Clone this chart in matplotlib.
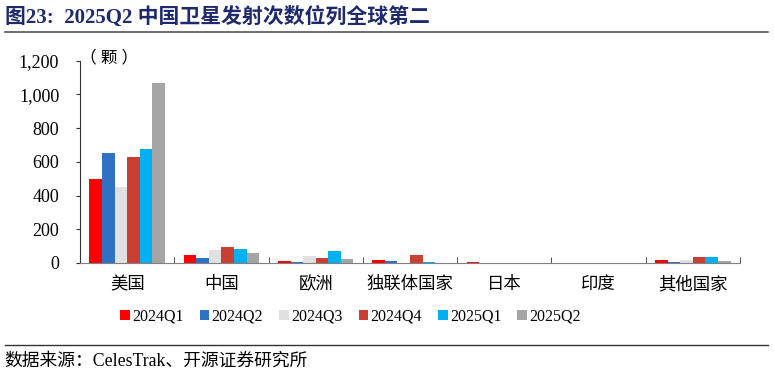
import numpy as np
import matplotlib.pyplot as plt
from matplotlib.lines import Line2D

plt.rcParams['font.family'] = ['Liberation Serif', 'Noto Sans CJK SC']

regions = ["美国", "中国", "欧洲", "独联体国家", "日本", "印度", "其他国家"]
quarters = ["2024Q1", "2024Q2", "2024Q3", "2024Q4", "2025Q1", "2025Q2"]
q2024_1 = [497, 46, 10, 20, 3, 2, 20]
q2024_2 = [653, 32, 5, 10, 1, 1, 3]
q2024_3 = [451, 77, 43, 1, 1, 1, 20]
q2024_4 = [626, 97, 32, 50, 2, 2, 34]
q2025_1 = [674, 83, 71, 5, 2, 2, 36]
q2025_2 = [1069, 61, 26, 2, 2, 1, 14]
series = [q2024_1, q2024_2, q2024_3, q2024_4, q2025_1, q2025_2]
colors = ["#FF0000", "#2F72C4", "#E0E0E0", "#C94032", "#00B0F0", "#A5A5A5"]

fig = plt.figure(figsize=(7.74, 3.75), dpi=100)
ax = fig.add_axes([0.1034, 0.2987, 0.8526, 0.5393])

x = np.arange(len(regions))
w = 0.8 / len(series)
for i, (vals, c, lab) in enumerate(zip(series, colors, quarters)):
    ax.bar(x - 0.4 + w * (i + 0.5), vals, width=w, color=c, label=lab)

ax.set_xlim(-0.5, len(regions) - 0.5)
ax.set_ylim(0, 1200)
ax.set_yticks(range(0, 1201, 200))
ax.set_yticklabels([f"{v:,}" for v in range(0, 1201, 200)], fontsize=13)
ax.set_xticks(x)
ax.set_xticklabels(regions, fontsize=12.5)
ax.set_xticks(np.arange(0.5, len(regions)), minor=True)
ax.tick_params(axis='x', which='major', length=0, pad=10)
ax.tick_params(axis='x', which='minor', length=4, direction='in', color='#333333')
ax.tick_params(axis='y', length=3, direction='out', color='#333333', pad=12)

for s in ["top", "right"]:
    ax.spines[s].set_visible(False)
ax.spines["left"].set_color("#333333")
ax.spines["bottom"].set_color("#808080")

ax.text(0.0, 1.01, "（ 颗 ）", transform=ax.transAxes, fontsize=12, va='center', ha='left')

ax.legend(loc='upper center', bbox_to_anchor=(0.41, -0.155), ncol=6, frameon=False,
          fontsize=11.5, handlelength=0.6, handleheight=0.6, handletextpad=0.15,
          columnspacing=1.0)

fig.text(0.006, 0.955, "图23:  2025Q2 中国卫星发射次数位列全球第二", fontsize=15,
         fontweight='bold', color='#1F2A6E', va='center', ha='left')
fig.add_artist(Line2D([0.006, 0.992], [0.915, 0.915], color='#555555', lw=1.2))
fig.add_artist(Line2D([0.006, 0.992], [0.08, 0.08], color='#333333', lw=1.0))
fig.text(0.006, 0.038, "数据来源：CelesTrak、开源证券研究所", fontsize=12.8,
         va='center', ha='left')

fig.savefig("out.png", dpi=100)
